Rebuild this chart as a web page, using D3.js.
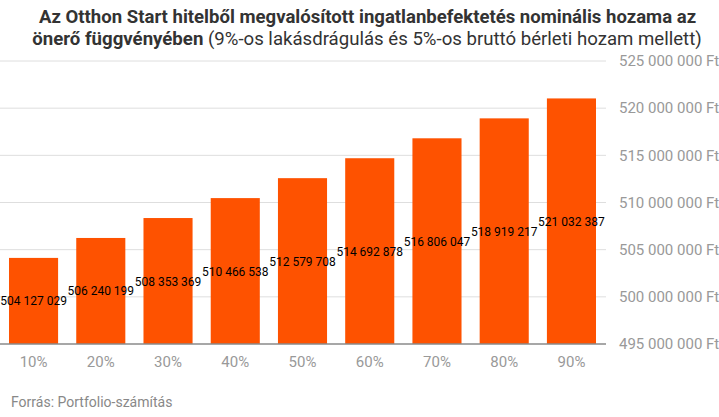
<!DOCTYPE html>
<html><head><meta charset="utf-8">
<script src="https://cdn.jsdelivr.net/npm/d3@7"></script>
<style>body{margin:0;background:#fff;}svg{display:block;font-family:Roboto,sans-serif;}</style>
</head><body><svg id="c" width="719" height="417"></svg>
<script>
const categories = ["10%","20%","30%","40%","50%","60%","70%","80%","90%"];
const values = [504127029,506240199,508353369,510466538,512579708,514692878,516806047,518919217,521032387];
const yTicks = [495000000,500000000,505000000,510000000,515000000,520000000,525000000];
const titleLine1 = "Az Otthon Start hitelből megvalósított ingatlanbefektetés nominális hozama az";
const titleBold2 = "önerő függvényében";
const titleNormal2 = " (9%-os lakásdrágulás és 5%-os bruttó bérleti hozam mellett)";
const source = "Forrás: Portfolio-számítás";

const svg = d3.select("#c");
const loc = d3.formatLocale({decimal:",", thousands:"\u00a0", grouping:[3], currency:["","Ft"]});
const fmt = loc.format(",");

const x = d3.scaleBand().domain(categories).range([0,605]).paddingInner(0.27).paddingOuter(0.134);
const y = d3.scaleLinear().domain([495000000,525000000]).range([344,61]);

// grid
svg.append("g").selectAll("line").data(yTicks.slice(1)).join("line")
  .attr("x1",0).attr("x2",606).attr("y1",d=>y(d)).attr("y2",d=>y(d))
  .attr("stroke","#dedede").attr("stroke-width",1);

// bars
svg.append("g").selectAll("rect").data(values).join("rect")
  .attr("x",(d,i)=>x(categories[i])).attr("width",x.bandwidth())
  .attr("y",d=>y(d)).attr("height",d=>y(495000000)-y(d))
  .attr("fill","#fe5200");

// baseline
svg.append("line").attr("x1",0).attr("x2",606).attr("y1",344).attr("y2",344)
  .attr("stroke","#8a8a8a").attr("stroke-width",1.5);

// y axis labels
const yAxis = d3.axisRight(y).tickValues(yTicks).tickSize(0).tickPadding(0)
  .tickFormat(d=>fmt(d)+" Ft");
const ya = svg.append("g").attr("transform","translate(619,0)").call(yAxis);
ya.select(".domain").remove();
ya.selectAll("text").attr("font-size",15).attr("fill","#999").attr("font-family","Roboto");

// x axis labels
const xAxis = d3.axisBottom(x).tickSize(0).tickPadding(0);
const xa = svg.append("g").attr("transform","translate(0,356)").call(xAxis);
xa.select(".domain").remove();
xa.selectAll("text").attr("font-size",15).attr("fill","#999").attr("font-family","Roboto");

// value labels
svg.append("g").selectAll("text").data(values).join("text")
  .attr("x",(d,i)=>x(categories[i])+x.bandwidth()/2)
  .attr("y",d=>(y(d)+344)/2+4.5)
  .attr("text-anchor","middle").attr("font-size",12).attr("fill","#000")
  .text(d=>fmt(d));

// title
function fitLine(t, target, cx){
  const w = t.node().getComputedTextLength();
  const s = target/w;
  t.attr("transform",`translate(${cx},0) scale(${s},1) translate(${-cx},0)`);
}
const t1 = svg.append("text").attr("x",367.5).attr("y",23).attr("text-anchor","middle")
  .attr("font-size",19).attr("font-weight","bold").attr("fill","#333").text(titleLine1);
fitLine(t1, 658, 367.5);
const t2 = svg.append("text").attr("x",367).attr("y",45).attr("text-anchor","middle")
  .attr("font-size",19).attr("fill","#333");
t2.append("tspan").attr("font-weight","bold").text(titleBold2);
t2.append("tspan").attr("font-weight","normal").text(titleNormal2);
fitLine(t2, 670, 367);

// source
svg.append("text").attr("x",11).attr("y",407).attr("font-size",14).attr("fill","#888").text(source);
</script></body></html>
